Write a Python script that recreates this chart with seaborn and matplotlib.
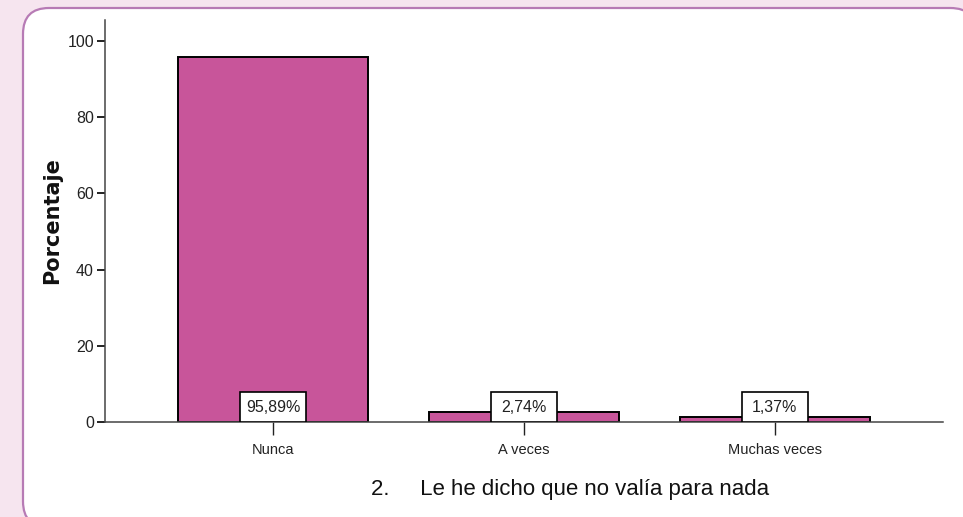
import numpy as np
import pandas as pd
import matplotlib
matplotlib.use("Agg")
import matplotlib.pyplot as plt
from matplotlib.patches import FancyBboxPatch
import seaborn as sns

# DATA
categorias = ["Nunca", "A veces", "Muchas veces"]
porcentajes = [95.89, 2.74, 1.37]
etiquetas = ["95,89%", "2,74%", "1,37%"]

df = pd.DataFrame({"Respuesta": categorias, "Porcentaje": porcentajes})

sns.set_style("white")
narrow = ["Liberation Sans Narrow", "Liberation Sans", "DejaVu Sans"]

fig = plt.figure(figsize=(9.63, 5.17), dpi=100, facecolor="#F6E5EF")

# rounded white panel
panel = FancyBboxPatch((23 / 963, -0.02), 0.99, 1 - 8 / 517 + 0.02,
                       boxstyle="round,pad=0,rounding_size=0.027",
                       transform=fig.transFigure, facecolor="white",
                       edgecolor="#B77BB5", linewidth=1.6, zorder=-1,
                       mutation_aspect=963 / 517)
fig.patches.append(panel)

ax = fig.add_axes([105 / 963, 95 / 517, 838 / 963, 402 / 517])
ax.set_facecolor("none")
ax.set_zorder(2)

sns.barplot(data=df, x="Respuesta", y="Porcentaje", color="#C8559A",
            edgecolor="black", linewidth=1.4, width=0.757, saturation=1, ax=ax)

# label boxes
pos = np.arange(len(categorias))
ax.bar(pos, [8] * len(pos), width=0.263, color="white", edgecolor="black",
       linewidth=1.2, zorder=3)
for x, t in zip(pos, etiquetas):
    ax.text(x, 3.9, t, ha="center", va="center", fontsize=11.5,
            family=narrow, color="#222222", zorder=4)

ax.set_xlim(-0.67, 2.67)
ax.set_ylim(0, 105.5)
ax.set_yticks([0, 20, 40, 60, 80, 100])
sns.despine(ax=ax)
for s in ["left", "bottom"]:
    ax.spines[s].set_color("#444444")
    ax.spines[s].set_linewidth(1.1)
ax.tick_params(axis="y", direction="out", length=6, width=1.4, color="#222222",
               labelsize=11.5, pad=2, left=True)
ax.tick_params(axis="x", direction="out", length=9, width=1.0, color="#222222",
               labelsize=10.5, pad=6, bottom=True)
for lbl in ax.get_yticklabels() + ax.get_xticklabels():
    lbl.set_family(narrow)
    lbl.set_color("#222222")

ax.set_xlabel("")
ax.set_ylabel("Porcentaje", fontsize=15, fontweight="bold",
              family="DejaVu Sans", color="#111111")
ax.yaxis.set_label_coords(-0.051, 0.5)

fig.text(570 / 963, 27 / 517, "2.     Le he dicho que no valía para nada",
         ha="center", va="center", fontsize=16, family=["Liberation Sans", "DejaVu Sans"],
         color="#111111")

fig.savefig("out.png", dpi=100, facecolor=fig.get_facecolor())
